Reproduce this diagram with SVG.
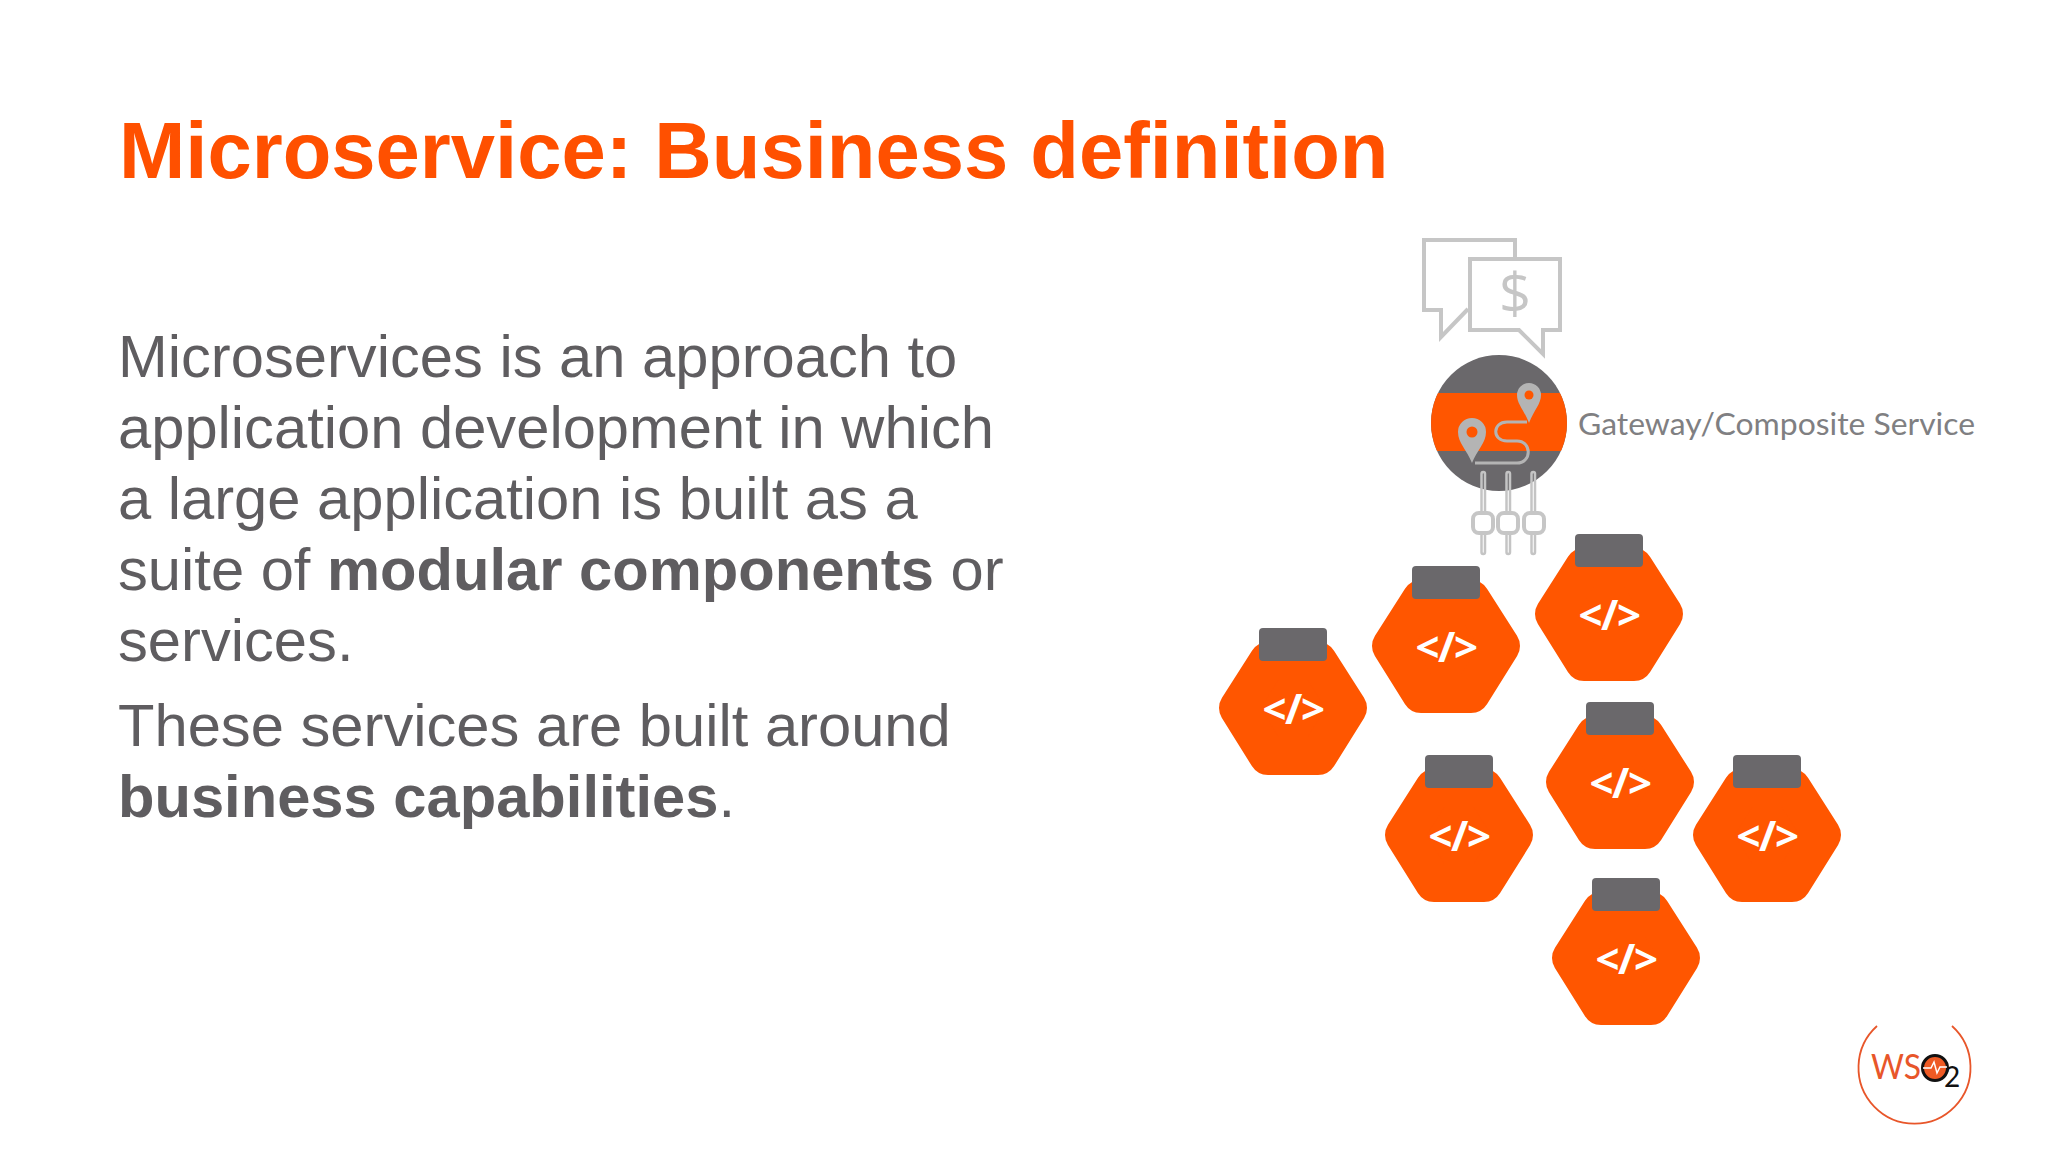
<svg xmlns="http://www.w3.org/2000/svg" xmlns:xlink="http://www.w3.org/1999/xlink" width="2048" height="1152" viewBox="0 0 2048 1152">
<style>
text{font-family:"Liberation Sans",Arial,sans-serif}
.title{font-size:79.6px;font-weight:700;fill:#ff5000}
.body{font-size:59.7px;fill:#5f5d60}
.b{font-weight:700}
.code{font-family:"Open Sans",sans-serif;font-size:42px;font-weight:700;fill:#fff;text-anchor:middle;letter-spacing:-1.5px}
.ln{fill:none;stroke:#c6c6c6;stroke-width:4}
.knob{fill:#fff;stroke:#c6c6c6;stroke-width:4}
.sl{fill:none;stroke:#c4c4c4;stroke-width:2.500}
</style>
<defs>
<g id="svc">
<polygon points="-55,0 -25,-47 25,-47 55,0 25,48 -25,48" fill="#ff5600" stroke="#ff5600" stroke-width="38" stroke-linejoin="round"/>
<rect x="-34" y="-80" width="68" height="33" rx="4" fill="#6a686b"/>
<text class="code" x="0" y="16">&lt;/&gt;</text>
</g>
<clipPath id="gc"><circle cx="1499" cy="423" r="68"/></clipPath>
</defs>
<rect width="2048" height="1152" fill="#fff"/>
<g id="title"><text class="title" x="119" y="178">Microservice: Business definition</text></g>
<g id="body">
<text class="body" x="118" y="377">Microservices is an approach to</text>
<text class="body" x="118" y="448">application development in which</text>
<text class="body" x="118" y="519">a large application is built as a</text>
<text class="body" x="118" y="590">suite of <tspan class="b">modular components</tspan> or</text>
<text class="body" x="118" y="661">services.</text>
<text class="body" x="118" y="746">These services are built around</text>
<text class="body" x="118" y="817"><tspan class="b">business capabilities</tspan>.</text>
</g>
<g id="chat">
<path class="ln" d="M1515,259V240H1424V310H1441V337L1468,309"/>
<path class="ln" d="M1470,259H1560V330H1543V354L1519,330H1470Z"/>
<text x="1515" y="314" text-anchor="middle" font-size="56" style="font-family:'Open Sans',sans-serif" fill="#c6c6c6">$</text>
</g>
<g id="gateway">
<g clip-path="url(#gc)">
<rect x="1425" y="350" width="148" height="145" fill="#6a686b"/>
<rect x="1425" y="393" width="148" height="58" fill="#ff5600"/>
</g>
<path d="M1475,463H1517C1532,463 1532,441 1517,441H1507C1492,441 1492,422 1507,422H1527" fill="none" stroke="#b4b4b4" stroke-width="3"/>
<path d="M1472,463C1467,450 1458,443 1458,432A14,14 0 0 1 1486,432C1486,443 1477,450 1472,463Z" fill="#b4b4b4"/>
<circle cx="1472" cy="432" r="5.500" fill="#ff5600"/>
<path d="M1529,423C1524,410 1517,404 1517,395A12,12 0 0 1 1541,395C1541,404 1534,410 1529,423Z" fill="#b4b4b4"/>
<circle cx="1529" cy="395" r="4.500" fill="#ff5600"/>
</g>
<g id="sliders">
<rect class="sl" x="1481.500" y="472" width="3.500" height="82" rx="1.700"/>
<rect class="sl" x="1506.500" y="472" width="3.500" height="82" rx="1.700"/>
<rect class="sl" x="1531.500" y="472" width="3.500" height="82" rx="1.700"/>
<rect class="knob" x="1473" y="513" width="20" height="20" rx="6"/>
<rect class="knob" x="1498" y="513" width="20" height="20" rx="6"/>
<rect class="knob" x="1524" y="513" width="20" height="20" rx="6"/>
</g>
<g id="label"><text x="1578" y="435" font-size="31" style="font-family:Lato,sans-serif" fill="#807f82" textLength="397" lengthAdjust="spacingAndGlyphs">Gateway/Composite Service</text></g>
<g id="svc1"><use href="#svc" xlink:href="#svc" x="1293" y="708"/></g>
<g id="svc2"><use href="#svc" xlink:href="#svc" x="1446" y="646"/></g>
<g id="svc3"><use href="#svc" xlink:href="#svc" x="1609" y="614"/></g>
<g id="svc4"><use href="#svc" xlink:href="#svc" x="1459" y="835"/></g>
<g id="svc5"><use href="#svc" xlink:href="#svc" x="1620" y="782"/></g>
<g id="svc6"><use href="#svc" xlink:href="#svc" x="1767" y="835"/></g>
<g id="svc7"><use href="#svc" xlink:href="#svc" x="1626" y="958"/></g>
<g id="logo">
<path d="M1877,1026A56,56 0 1 0 1952,1026" fill="none" stroke="#e8562a" stroke-width="1.800"/>
<text x="1871" y="1079" font-size="34" fill="#e8562a" textLength="50" lengthAdjust="spacingAndGlyphs" style="font-family:Lato,sans-serif">WS</text>
<circle cx="1935" cy="1068" r="12.500" fill="#ee5a24" stroke="#111" stroke-width="3"/>
<path d="M1923,1068H1931L1934,1062L1937,1073L1940,1067H1947" fill="none" stroke="#fff" stroke-width="1.500"/>
<text x="1944" y="1087" font-size="28" fill="#111" style="font-family:Lato,sans-serif">2</text>
</g>
</svg>
